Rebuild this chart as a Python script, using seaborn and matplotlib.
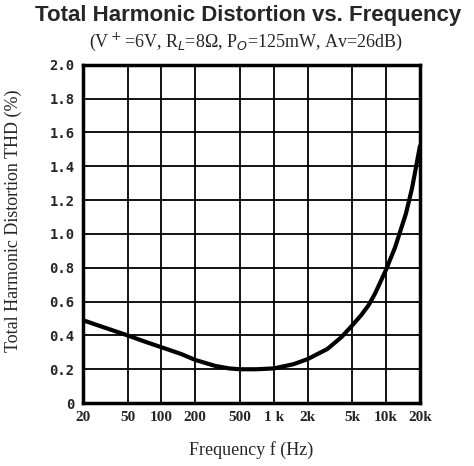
import pandas as pd
import matplotlib
matplotlib.use("Agg")
import matplotlib.pyplot as plt
import seaborn as sns

# Curve
freq_hz = [20, 30, 50, 70, 100, 150, 200, 300, 400, 500, 700, 1000, 1500, 2000,
           3000, 4000, 5000, 6000, 7000, 8000, 10000, 12000, 15000, 17000, 20000]
thd_pct = [0.49, 0.45, 0.40, 0.365, 0.33, 0.29, 0.255, 0.22, 0.205, 0.20, 0.20, 0.205, 0.23, 0.26,
           0.32, 0.39, 0.46, 0.52, 0.58, 0.65, 0.79, 0.92, 1.12, 1.27, 1.52]

x_ticks = [20, 50, 100, 200, 500, 1000, 2000, 5000, 10000, 20000]
x_tick_labels = ["20", "50", "100", "200", "500", "1 k", "2k", "5k", "10k", "20k"]
y_ticks = [0, 0.2, 0.4, 0.6, 0.8, 1.0, 1.2, 1.4, 1.6, 1.8, 2.0]
y_tick_labels = ["0", "0.2", "0.4", "0.6", "0.8", "1.0", "1.2", "1.4", "1.6", "1.8", "2.0"]

df = pd.DataFrame({"freq": freq_hz, "thd": thd_pct})

sns.set_style("white")
plt.rcParams['font.family'] = ['Liberation Serif', 'DejaVu Serif']

fig = plt.figure(figsize=(4.74, 4.66), dpi=100)
ax = fig.add_axes([0.175, 0.135, 0.711, 0.726])

sns.lineplot(data=df, x="freq", y="thd", ax=ax, color="black", linewidth=3)

ax.set_xscale("log")
ax.set_xlim(20, 20000)
ax.set_ylim(0, 2.0)
ax.set_xticks(x_ticks)
ax.set_xticklabels(x_tick_labels, fontweight="bold", fontsize=11)
ax.set_yticks(y_ticks)
ax.set_yticklabels(y_tick_labels, fontweight="bold", fontsize=10, family="DejaVu Sans Mono")
ax.minorticks_off()
ax.tick_params(length=0, pad=6)
ax.grid(True, color="black", linewidth=1.3)
for s in ax.spines.values():
    s.set_visible(True)
    s.set_color("black")
    s.set_linewidth(2.5)

ax.set_xlabel("Frequency f (Hz)", fontsize=13, labelpad=12)
ax.set_ylabel("Total Harmonic Distortion THD (%)", fontsize=13)
ax.yaxis.set_label_coords(-0.18, 0.54)

fig.text(0.523, 0.967, "Total Harmonic Distortion vs. Frequency", ha="center", va="center",
         fontsize=16, fontweight="bold", family="Liberation Sans")
fig.text(0.518, 0.91, "(V$^+$=6V, R$_L$=8Ω, P$_O$=125mW, Av=26dB)", ha="center", va="center",
         fontsize=13)

fig.savefig("out.png", dpi=100)
